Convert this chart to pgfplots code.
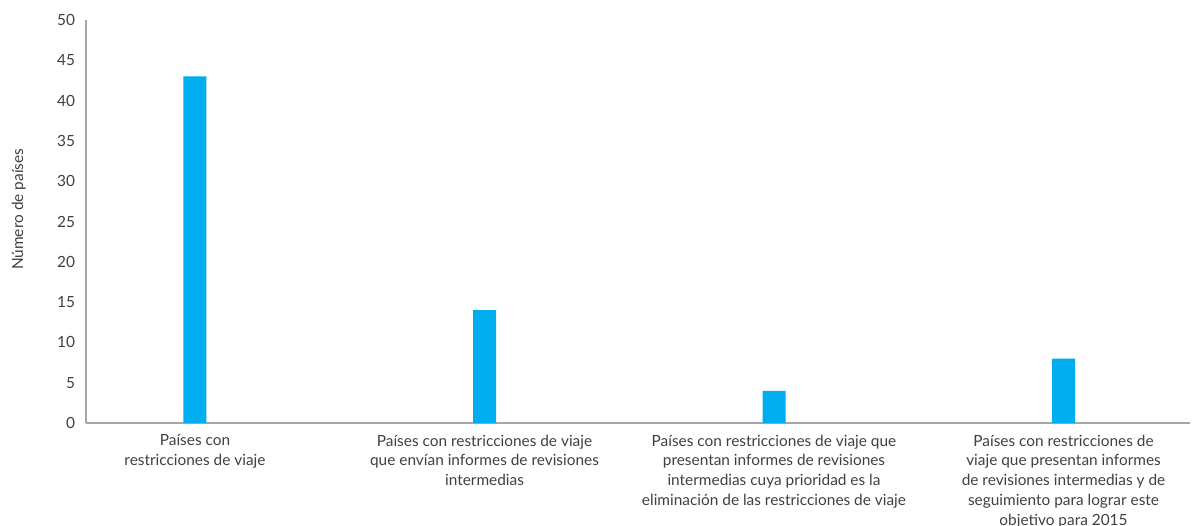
\documentclass[border=0pt]{standalone}
\usepackage{pgfplots}
\pgfplotsset{compat=1.18}
\usepackage{fontspec}
\setmainfont{Lato}
\definecolor{barblue}{HTML}{00AEEF}
\definecolor{txt}{HTML}{404040}
\definecolor{axisgray}{HTML}{A6A6A6}
\begin{document}
\begin{tikzpicture}
\path (0pt,0pt) rectangle (596pt,262.5pt);
\begin{scope}[overlay]
\begin{axis}[
  at={(43pt,51pt)}, anchor=south west,
  scale only axis, width=552pt, height=201.5pt,
  xmin=-0.3765, xmax=3.437, ymin=0, ymax=50,
  ytick={0,5,...,50},
  xtick={0,1,2,3},
  xticklabels={{Países con\\restricciones de viaje},
    {Países con restricciones de viaje\\que envían informes de revisiones\\intermedias},
    {Países con restricciones de viaje que\\presentan informes de revisiones\\intermedias cuya prioridad es la\\eliminación de las restricciones de viaje},
    {Países con restricciones de\\viaje que presentan informes\\de revisiones intermedias y de\\seguimiento para lograr este\\objetivo para 2015}},
  axis x line*=bottom, axis y line*=left,
  axis line style={axisgray, line width=0.75pt, -},
  major tick length=0pt,
  tick style={draw=none},
  ybar, bar width=11.5pt,
  tick label style={font=\fontsize{7.7}{9.75}\selectfont, text=txt},
  xticklabel style={align=center, anchor=north, yshift=-2.3pt, font=\fontsize{7.7}{9.95}\selectfont},
  yticklabel style={xshift=-2pt},
  /pgf/number format/assume math mode=true,
  ylabel={Número de países},
  ylabel style={font=\fontsize{7.7}{9.75}\selectfont, text=txt, at={(axis description cs:-0.061,0.53)}, anchor=center, rotate=0},
]
\addplot[fill=barblue, draw=none] coordinates {(0,43) (1,14) (2,4) (3,8)};
\end{axis}
\end{scope}
\end{tikzpicture}
\end{document}
